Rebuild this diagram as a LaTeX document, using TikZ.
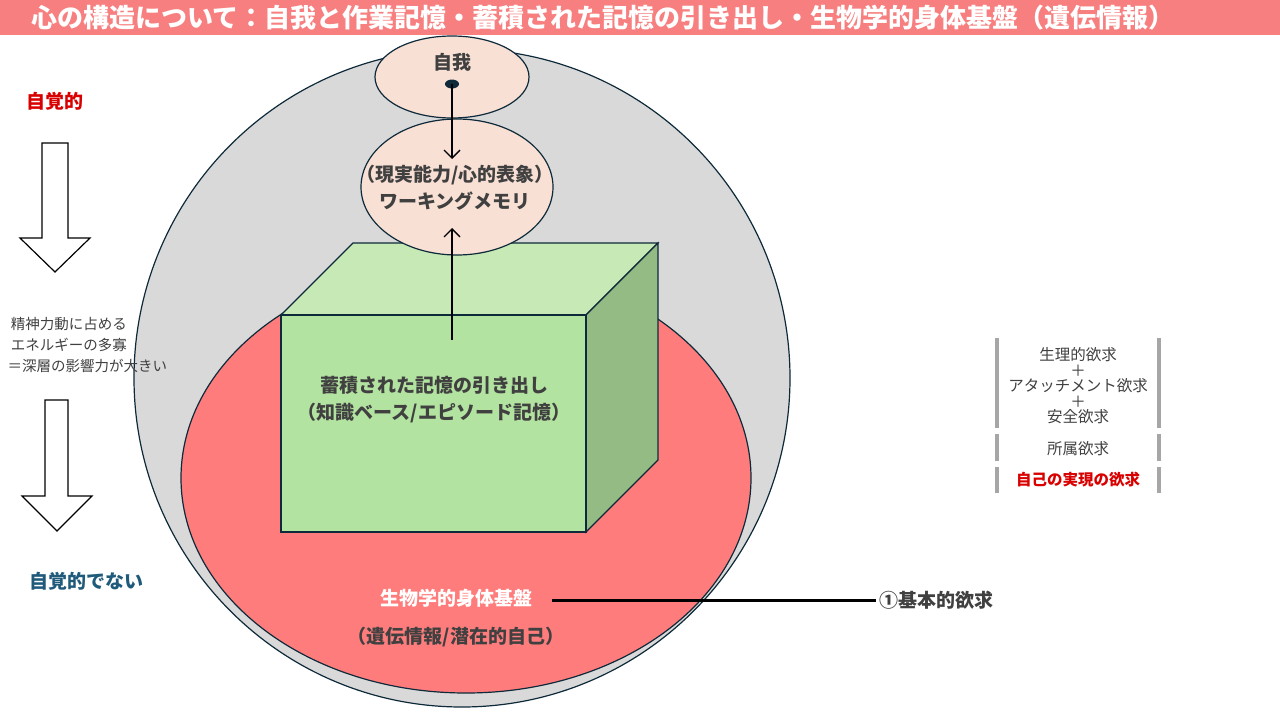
\documentclass[tikz,border=0pt]{standalone}
\usepackage{fontspec}
\usetikzlibrary{arrows.meta}
\setmainfont{Noto Sans CJK JP}
\definecolor{titlec}{HTML}{F77F7F}
\definecolor{greyc}{HTML}{D9D9D9}
\definecolor{redc}{HTML}{FF7C7C}
\definecolor{edge}{HTML}{0E2A3A}
\definecolor{peach}{HTML}{F9E0D5}
\definecolor{gfront}{HTML}{B3E3A0}
\definecolor{gtop}{HTML}{C6E9B5}
\definecolor{gside}{HTML}{93BB83}
\definecolor{txt}{HTML}{404040}
\definecolor{bluet}{HTML}{1F5A7A}
\definecolor{barc}{HTML}{A6A6A6}
\tikzset{lbl/.style={font=\fontsize{19}{27}\selectfont\bfseries, text=txt, align=center},
 small/.style={font=\fontsize{14.5}{21}\selectfont, text=txt, align=center},
 hol/.style={draw=black, line width=1.2pt, fill=white},
 bar/.style={barc, line width=3.5pt},
 arr/.style={black, line width=1.3pt, -{Straight Barb[length=8pt,width=16pt]}}}
\begin{document}
\begin{tikzpicture}[x=1pt,y=-1pt]
\useasboundingbox (0,0) rectangle (1280,720);
\fill[titlec] (0,0) rectangle (1280,35);
\node[font=\fontsize{26}{28}\selectfont\bfseries, text=white, anchor=west] (title) at (28,18) {心の構造について：自我と作業記憶・蓄積された記憶の引き出し・生物学的身体基盤（遺伝情報）};
\draw[edge, line width=1.2pt, fill=greyc] (462,378) ellipse [x radius=328, y radius=329];
\draw[edge, line width=1.2pt, fill=redc] (466,478) ellipse [x radius=285, y radius=215];
% cube
\draw[edge, line width=1.2pt, fill=gtop] (281,315) -- (353,243) -- (658,243) -- (586,315) -- cycle;
\draw[edge, line width=1.2pt, fill=gside] (586,315) -- (658,243) -- (658,460) -- (586,532) -- cycle;
\draw[edge, line width=1.2pt, fill=gfront] (281,315) rectangle (586,532);
\node[lbl] (mem) at (434,400) {蓄積された記憶の引き出し\\（知識ベース/エピソード記憶）};
% ellipses
\draw[edge, line width=1.2pt, fill=peach] (452,77) ellipse [x radius=77, y radius=41];
\node[lbl] (ego) at (452,62) {自我};
\draw[edge, line width=1.2pt, fill=peach] (457,187) ellipse [x radius=96, y radius=68];
\node[lbl] (wm) at (455,188) {（現実能力/心的表象）\\ワーキングメモリ};
\fill[edge] (452,84) ellipse [x radius=7, y radius=4.5];
\coordinate (d) at (452,84);
\coordinate (d2) at (452,159);
\draw[arr] (d) -- (d2);
\coordinate (u1) at (452,340);
\coordinate (u2) at (452,228);
\draw[arr] (u1) -- (u2);
% bottom
\node[lbl, text=white] (bio) at (456,598) {生物学的身体基盤};
\node[lbl, text=txt] (gen) at (456,637) {（遺伝情報/潜在的自己）};
\node[lbl, anchor=west] (basic) at (876,600) {①基本的欲求};
\draw[black, line width=3pt] (552,600) -- (basic.west);
% left
\node[lbl, text=red!85!black] (a) at (55,101) {自覚的};
\node[lbl, text=bluet] (b) at (86,581) {自覚的でない};
\draw[hol] (42,143) -- (68,143) -- (68,238) -- (90,238) -- (55,272) -- (20,238) -- (42,238) -- cycle;
\draw[hol] (45,400) -- (68,400) -- (68,496) -- (92,496) -- (57,531) -- (22,496) -- (45,496) -- cycle;
\node[small, align=left, anchor=west] (e) at (4,345) {\ 精神力動に占める\\\ エネルギーの多寡\\＝深層の影響力が大きい};
% right list
\draw[bar] (997,338) -- (997,428); \draw[bar] (1159,338) -- (1159,428);
\draw[bar] (997,434) -- (997,461); \draw[bar] (1159,434) -- (1159,461);
\draw[bar] (997,467) -- (997,493); \draw[bar] (1159,467) -- (1159,493);
\node[small, font=\fontsize{15.5}{15.5}\selectfont] (n1) at (1078,386) {生理的欲求\\＋\\アタッチメント欲求\\＋\\安全欲求};
\node[small, font=\fontsize{15.5}{19}\selectfont] (n2) at (1078,449) {所属欲求};
\node[small, text=red!85!black, font=\fontsize{15.5}{19}\selectfont\bfseries] (n3) at (1078,480) {自己の実現の欲求};
\end{tikzpicture}
\end{document}
